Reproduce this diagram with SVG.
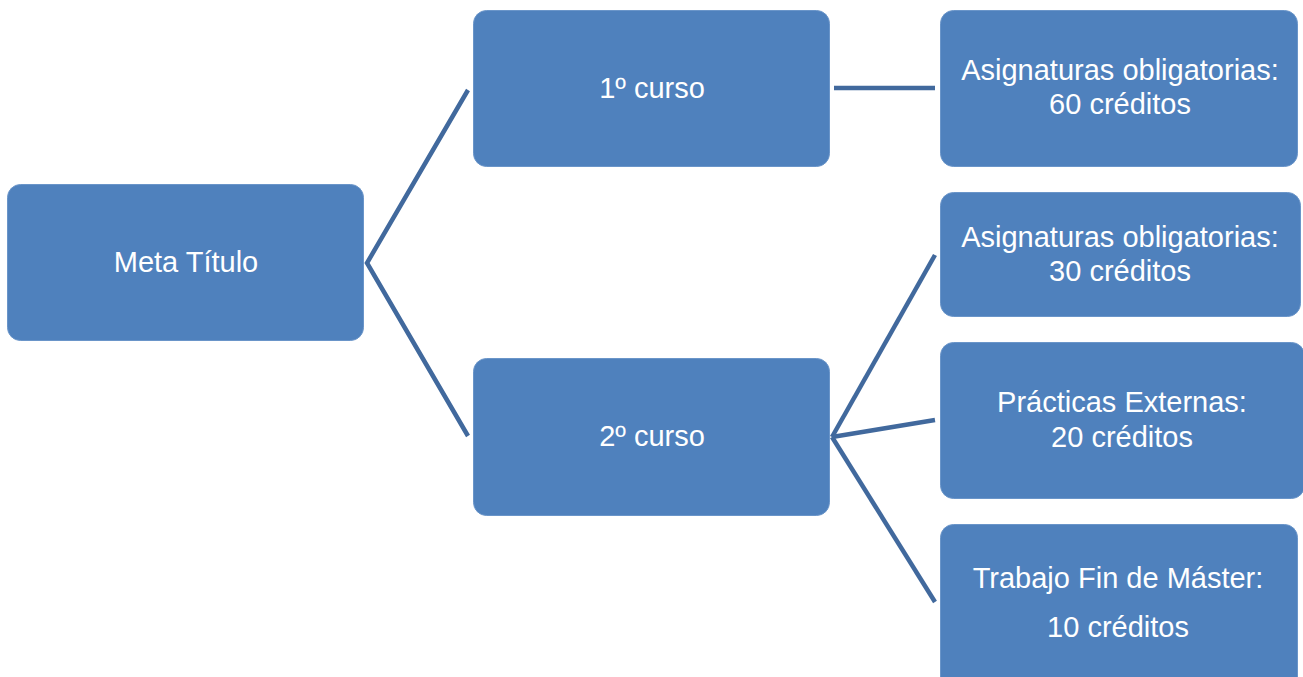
<svg xmlns="http://www.w3.org/2000/svg" width="1303" height="677" viewBox="0 0 1303 677">
<style>
.box{fill:#4F81BD;stroke:#6A95C9;stroke-width:1}
.lbl{font-family:"Liberation Sans","Open Sans",sans-serif;font-size:29px;fill:#FFFFFF;text-anchor:middle}
.conn{stroke:#41699D;stroke-width:4.5;fill:none}
</style>
<rect width="1303" height="677" fill="#FFFFFF"/>
<g id="connectors">
<polyline class="conn" points="468,90 367,263 468,436"/>
<line class="conn" x1="834" y1="88" x2="935" y2="88"/>
<line class="conn" x1="832" y1="437" x2="935" y2="255"/>
<line class="conn" x1="832" y1="437" x2="935" y2="420"/>
<line class="conn" x1="832" y1="437" x2="935" y2="602"/>
</g>
<g id="meta">
<rect class="box" x="7.5" y="184.5" width="356" height="156" rx="13"/>
<text class="lbl" x="186" y="272">Meta Título</text>
</g>
<g id="curso1">
<rect class="box" x="473.5" y="10.5" width="356" height="156" rx="13"/>
<text class="lbl" x="652" y="98">1º curso</text>
</g>
<g id="curso2">
<rect class="box" x="473.5" y="358.5" width="356" height="157" rx="13"/>
<text class="lbl" x="652" y="446">2º curso</text>
</g>
<g id="asig60">
<rect class="box" x="940.5" y="10.5" width="357" height="156" rx="13"/>
<text class="lbl" x="1120" y="80">Asignaturas obligatorias:</text>
<text class="lbl" x="1120" y="114">60 créditos</text>
</g>
<g id="asig30">
<rect class="box" x="940.5" y="192.5" width="360" height="124" rx="13"/>
<text class="lbl" x="1120" y="247">Asignaturas obligatorias:</text>
<text class="lbl" x="1120" y="281">30 créditos</text>
</g>
<g id="practicas">
<rect class="box" x="940.5" y="342.5" width="364" height="156" rx="13"/>
<text class="lbl" x="1122" y="412">Prácticas Externas:</text>
<text class="lbl" x="1122" y="447">20 créditos</text>
</g>
<g id="tfm">
<rect class="box" x="940.5" y="524.5" width="357" height="170" rx="13"/>
<text class="lbl" x="1118" y="588">Trabajo Fin de Máster:</text>
<text class="lbl" x="1118" y="637">10 créditos</text>
</g>
</svg>
